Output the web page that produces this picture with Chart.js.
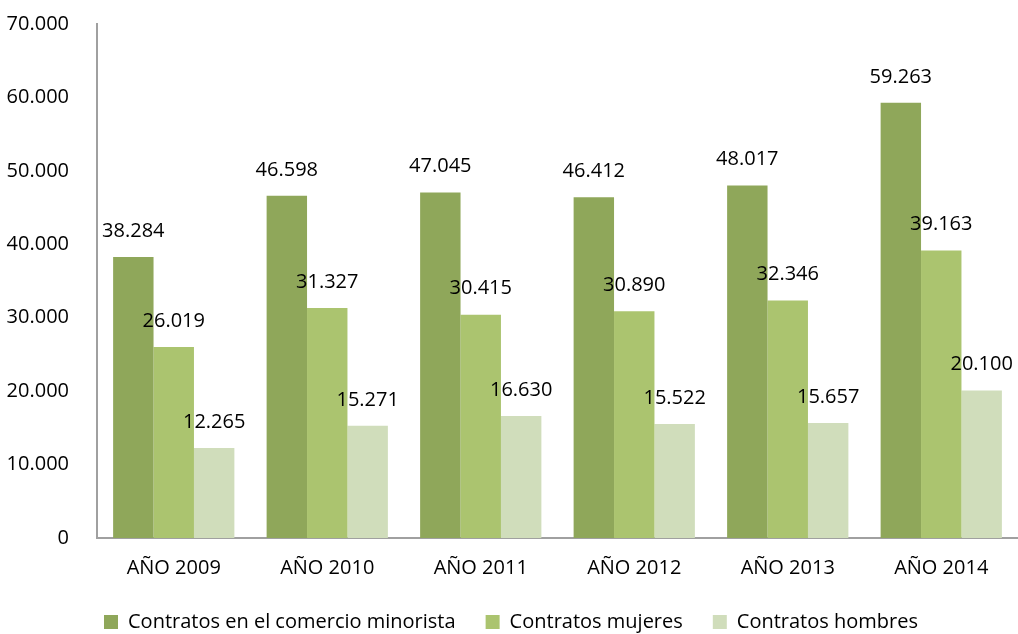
<!DOCTYPE html>
<html>
<head>
<meta charset="utf-8">
<script src="https://cdn.jsdelivr.net/npm/chart.js@4"></script>
<style>
  html, body { margin: 0; padding: 0; background: #fff; }
  #wrap { width: 1018px; height: 634px; }
</style>
</head>
<body>
<div id="wrap"><canvas id="myChart"></canvas></div>
<script>
var years = ['AÑO 2009', 'AÑO 2010', 'AÑO 2011', 'AÑO 2012', 'AÑO 2013', 'AÑO 2014'];
var totales = [38284, 46598, 47045, 46412, 48017, 59263];
var mujeres = [26019, 31327, 30415, 30890, 32346, 39163];
var hombres = [12265, 15271, 16630, 15522, 15657, 20100];
var seriesNames = ['Contratos en el comercio minorista', 'Contratos mujeres', 'Contratos hombres'];

var FONT = '"Open Sans", "Noto Sans", sans-serif';

function fmt(v) {
    return String(v).replace(/\B(?=(\d{3})+(?!\d))/g, '.');
}

// draws the value above each bar
var valueLabels = {
    id: 'valueLabels',
    afterDatasetsDraw: function(chart) {
        var ctx = chart.ctx;
        ctx.save();
        ctx.font = '20px ' + FONT;
        ctx.fillStyle = '#000';
        ctx.textAlign = 'center';
        ctx.textBaseline = 'bottom';
        chart.data.datasets.forEach(function(ds, i) {
            chart.getDatasetMeta(i).data.forEach(function(bar, j) {
                ctx.fillText(fmt(ds.data[j]), bar.x, bar.y - 16);
            });
        });
        ctx.restore();
    }
};

var chart = new Chart(document.getElementById('myChart'), {
    type: 'bar',
    data: {
        labels: years,
        datasets: [
            { label: seriesNames[0], data: totales, backgroundColor: 'rgb(143,167,90)' },
            { label: seriesNames[1], data: mujeres, backgroundColor: 'rgb(171,196,111)' },
            { label: seriesNames[2], data: hombres, backgroundColor: 'rgb(208,221,187)' }
        ]
    },
    options: {
        responsive: true,
        maintainAspectRatio: false,
        animation: false,
        layout: { padding: { top: 24, right: 0, left: 4, bottom: -8 } },
        datasets: { bar: { categoryPercentage: 0.79, barPercentage: 1.0 } },
        plugins: {
            legend: {
                position: 'bottom',
                labels: {
                    font: { family: FONT, size: 20 },
                    color: '#000',
                    boxWidth: 14,
                    boxHeight: 14,
                    padding: 30
                }
            },
            tooltip: { enabled: false }
        },
        scales: {
            x: {
                grid: { display: false },
                border: { display: true, color: '#a0a0a0', width: 2 },
                ticks: { font: { family: FONT, size: 20 }, color: '#000', padding: 10 },
                afterFit: function(axis) { axis.height = 44; }
            },
            y: {
                min: 0,
                max: 70000,
                grid: { display: false },
                border: { display: true, color: '#a0a0a0', width: 2 },
                ticks: {
                    stepSize: 10000,
                    font: { family: FONT, size: 20 },
                    color: '#000',
                    padding: 20,
                    callback: function(v) { return fmt(v); }
                },
                afterFit: function(axis) {
                    axis.width = 93;
                    axis.paddingTop = 0;
                    axis.paddingBottom = 0;
                }
            }
        }
    },
    plugins: [valueLabels]
});
</script>
</body>
</html>
